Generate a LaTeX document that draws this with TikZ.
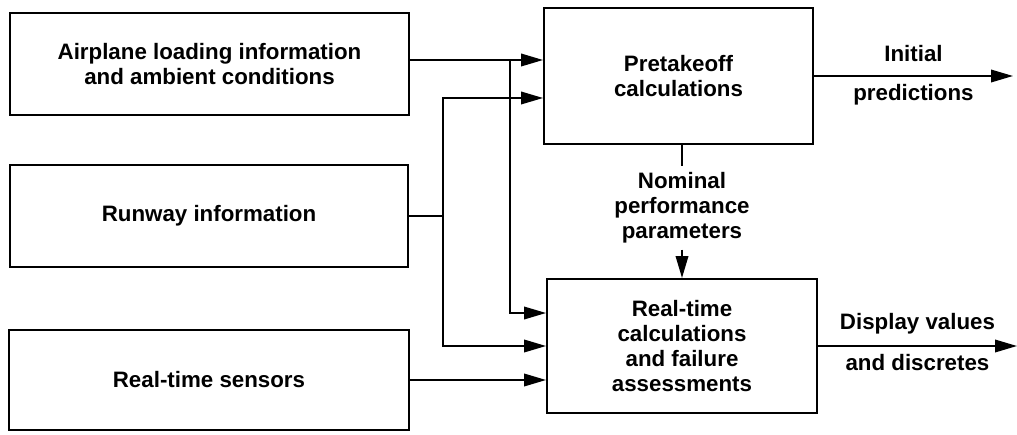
\documentclass[tikz,border=0pt]{standalone}
\usepackage{fontspec}
\setmainfont{Liberation Sans}
\usetikzlibrary{arrows.meta,positioning}

\begin{document}
\begin{tikzpicture}[x=0.02cm,y=-0.02cm,
  block/.style={draw,line width=1.1pt,align=center,inner sep=0pt,
                font=\fontsize{12.7}{14.2}\selectfont\bfseries},
  lbl/.style={align=center,font=\fontsize{12.7}{14.2}\selectfont\bfseries},
  link/.style={line width=1.1pt},
  flow/.style={link,-{Triangle[length=0.44cm,width=0.25cm]}}]
  \useasboundingbox (0,0) rectangle (1017,435);
  % Input boxes
  \node[block,minimum width=7.98cm,minimum height=2.04cm] (air) at (209.5,64)
    {Airplane loading information\\and ambient conditions};
  \node[block,minimum width=7.96cm,minimum height=2.04cm] (runway) at (209,216)
    {Runway information};
  \node[block,minimum width=8cm,minimum height=2cm] (sensors) at (209,380)
    {Real-time sensors};
  % Calculation boxes
  \node[block,minimum width=5.38cm,minimum height=2.72cm] (pretakeoff) at (678.5,76)
    {Pretakeoff\\calculations};
  \node[block,minimum width=5.4cm,minimum height=2.68cm] (realtime) at (682,346)
    {Real-time\\calculations\\and failure\\assessments};
  % Bus lines
  \coordinate (busA) at (510,0);
  \coordinate (busB) at (443,0);
  % Airplane loading feeds both
  \draw[flow] ([yshift=0.08cm]air.east) -- ([yshift=0.08cm]pretakeoff.west |- air.east);
  \draw[flow] ([yshift=0.08cm]air.east -| busA) |- ([yshift=0.66cm]realtime.west);
  % Runway feeds both
  \draw[link] (runway.east) -- (runway.east -| busB);
  \draw[flow] (runway.east -| busB) |- ([yshift=-0.44cm]pretakeoff.west);
  \draw[flow] (runway.east -| busB) |- (realtime.west);
  % Sensors
  \draw[flow] (sensors.east) -- (sensors.east -| realtime.west);
  % Nominal parameters
  \node[lbl] (nominal) at (682,208) {Nominal\\performance\\parameters};
  \draw[link] (pretakeoff.south -| nominal.north) -- (nominal.north);
  \draw[flow] (nominal.south) -- (realtime.north -| nominal.south);
  % Outputs
  \coordinate (initend) at (1013,0);
  \coordinate (dispend) at (1017,0);
  \draw[flow] (pretakeoff.east) -- node[lbl,above=4pt] (initial) {Initial}
    node[lbl,below=1pt] (predictions) {predictions} (pretakeoff.east -| initend);
  \draw[flow] (realtime.east) -- node[lbl,above=3pt] (display) {Display values}
    node[lbl,below=1pt] (discretes) {and discretes} (realtime.east -| dispend);
\end{tikzpicture}
\end{document}
